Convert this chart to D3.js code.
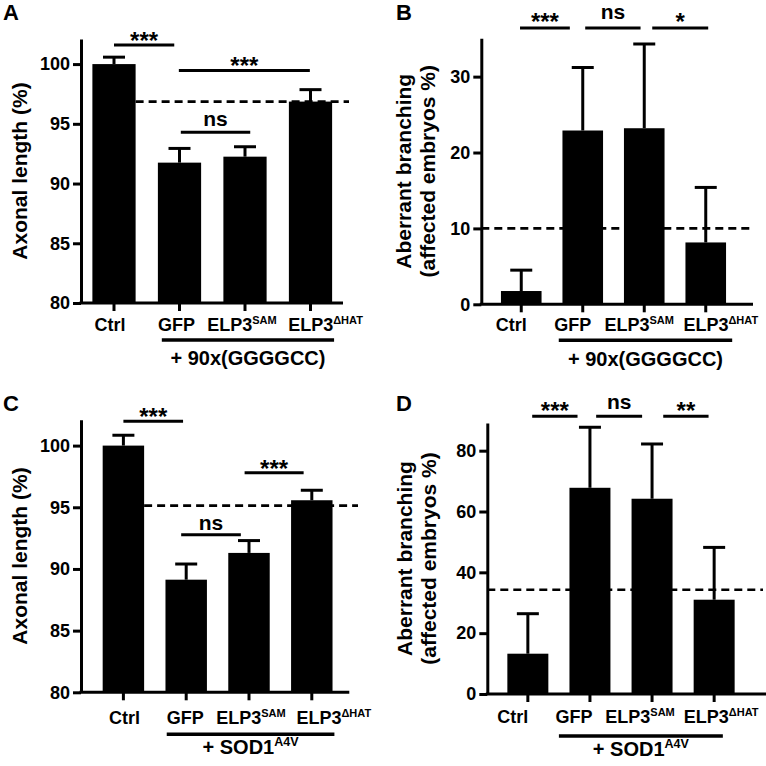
<!DOCTYPE html>
<html><head><meta charset="utf-8">
<script src="https://cdn.jsdelivr.net/npm/d3@7"></script>
<style>
body{margin:0;background:#fff}
text{font-family:"Liberation Sans",Arial,sans-serif;font-weight:bold;fill:#000}
</style>
</head><body><svg id="c" width="766" height="766"></svg>
<script>
// ---------- data ----------
const categories = ["Ctrl", "GFP", "ELP3", "ELP3"];
const categorySup = ["", "", "SAM", "\u0394HAT"];
const groupLabelA = ["+ 90x(GGGGCC)", ""];
const groupLabelC = ["+ SOD1", "A4V"];

const axonLengthA = [100, 91.75, 92.25, 96.86];
const axonLengthErrA = [0.58, 1.19, 0.83, 1.0];
const branchingB = [1.75, 22.9, 23.2, 8.15];
const branchingErrB = [2.75, 8.3, 11.1, 7.25];
const axonLengthC = [100, 89.13, 91.3, 95.57];
const axonLengthErrC = [0.84, 1.27, 1.0, 0.81];
const branchingD = [13.25, 67.8, 64.2, 31.0];
const branchingErrD = [13.15, 19.9, 18.0, 17.2];

const referenceA = 96.86, referenceB = 10, referenceC = 95.13, referenceD = 34.3;

const ticksAxon = [80, 85, 90, 95, 100];
const ticksB = [0, 10, 20, 30];
const ticksD = [0, 20, 40, 60, 80];

// significance brackets: from/to in category-position units (centre of i = i+0.5), y in data units
const sigA = [
  {from: 0.5, to: 1.42, y: 101.6, label: "***"},
  {from: 1.49, to: 3.49, y: 99.47, label: "***"},
  {from: 1.52, to: 2.58, y: 94.3, label: "ns"}
];
const sigB = [
  {from: 0.48, to: 1.29, y: 36.4, label: "***"},
  {from: 1.54, to: 2.44, y: 36.4, label: "ns"},
  {from: 2.63, to: 3.54, y: 36.4, label: "*"}
];
const sigC = [
  {from: 0.5, to: 1.45, y: 101.98, label: "***"},
  {from: 1.42, to: 2.37, y: 92.78, label: "ns"},
  {from: 2.43, to: 3.37, y: 97.79, label: "***"}
];
const sigD = [
  {from: 0.57, to: 1.3, y: 91.3, label: "***"},
  {from: 1.6, to: 2.34, y: 91.3, label: "ns"},
  {from: 2.68, to: 3.41, y: 91.3, label: "**"}
];
const groupSpanA = [1.23, 3.86], groupSpanB = [1.11, 3.93], groupSpanC = [1.19, 3.86], groupSpanD = [1.0, 3.64];

// ---------- layout ----------
const panels = [
  {letter: "A", lx: 3, ly: 20, values: axonLengthA, errs: axonLengthErrA, ref: referenceA, ticks: ticksAxon,
   domain: [80, 102.1], left: 81, right: 343, top: 39, bottom: 303, bandStart: 81.25, step: 65.5,
   dashFrom: "bar", dashTo: 349, sig: sigA, starDy: 4, nsDy: -6, labelDx: [-4, -3, -3, 15], labelDy: 28,
   group: groupLabelA, groupSpan: groupSpanA, groupLineDy: 37, groupTextDy: 62,
   title: ["Axonal length (%)"], titleX: [27]},
  {letter: "B", lx: 396, ly: 20, values: branchingB, errs: branchingErrB, ref: referenceB, ticks: ticksB,
   domain: [0, 35.05], left: 481.3, right: 753, top: 38.3, bottom: 304.3, bandStart: 490.5, step: 61.5,
   dashFrom: "axis", dashTo: 753, sig: sigB, starDy: 2, nsDy: -9, labelDx: [-10, -10, -5, 15], labelDy: 27,
   group: groupLabelA, groupSpan: groupSpanB, groupLineDy: 36, groupTextDy: 62,
   title: ["Aberrant branching", "(affected embryos %)"], titleX: [411, 435]},
  {letter: "C", lx: 3, ly: 411, values: axonLengthC, errs: axonLengthErrC, ref: referenceC, ticks: ticksAxon,
   domain: [80, 102.1], left: 81, right: 349.3, top: 419.7, bottom: 692.3, bandStart: 92, step: 62.8,
   dashFrom: "bar", dashTo: 358, sig: sigC, starDy: 4, nsDy: -5, labelDx: [1, -1, 2, 22], labelDy: 32,
   group: groupLabelC, groupSpan: groupSpanC, groupLineDy: 42, groupTextDy: 62,
   title: ["Axonal length (%)"], titleX: [27]},
  {letter: "D", lx: 396, ly: 411, values: branchingD, errs: branchingErrD, ref: referenceD, ticks: ticksD,
   domain: [0, 89.1], left: 487.3, right: 766, top: 423, bottom: 694, bandStart: 496.8, step: 62.1,
   dashFrom: "axis", dashTo: 763, sig: sigD, starDy: 3, nsDy: -7, labelDx: [-15, -16, -12, 7], labelDy: 29,
   group: groupLabelC, groupSpan: groupSpanD, groupLineDy: 42, groupTextDy: 62,
   title: ["Aberrant branching", "(affected embryos %)"], titleX: [412, 436]}
];

const svg = d3.select("#c");
const keys = categories.map((c, i) => c + categorySup[i]);

panels.forEach(p => {
  const g = svg.append("g");
  const y = d3.scaleLinear().domain(p.domain).range([p.bottom, p.top]);
  const x = d3.scaleBand().domain(keys)
    .range([p.bandStart, p.bandStart + 4 * p.step]).paddingInner(0.34).paddingOuter(0.17);
  const pos = d3.scaleLinear().domain([0, 4]).range([p.bandStart, p.bandStart + 4 * p.step]);
  const cx = k => x(k) + x.bandwidth() / 2;

  // panel letter
  g.append("text").attr("x", p.lx).attr("y", p.ly).attr("font-size", 22).text(p.letter);

  // reference dashed line
  const dx0 = p.dashFrom === "bar" ? x(keys[0]) + x.bandwidth() : p.left;
  g.append("line").attr("x1", dx0).attr("x2", p.dashTo)
    .attr("y1", y(p.ref)).attr("y2", y(p.ref))
    .attr("stroke", "#000").attr("stroke-width", 2.6).attr("stroke-dasharray", "8,5");

  // error bars
  const capW = 22;
  keys.forEach((k, i) => {
    const top = p.values[i] + p.errs[i];
    g.append("line").attr("x1", cx(k)).attr("x2", cx(k))
      .attr("y1", y(p.values[i])).attr("y2", y(top))
      .attr("stroke", "#000").attr("stroke-width", 3);
    g.append("line").attr("x1", cx(k) - capW / 2).attr("x2", cx(k) + capW / 2)
      .attr("y1", y(top)).attr("y2", y(top))
      .attr("stroke", "#000").attr("stroke-width", 3);
  });

  // bars
  g.selectAll("rect.bar").data(keys).join("rect").attr("class", "bar")
    .attr("x", k => x(k)).attr("width", x.bandwidth())
    .attr("y", (k, i) => y(p.values[i]))
    .attr("height", (k, i) => y(p.domain[0]) - y(p.values[i]))
    .attr("fill", "#000");

  // y axis
  const ya = g.append("g").attr("transform", `translate(${p.left},0)`)
    .call(d3.axisLeft(y).tickValues(p.ticks).tickSize(8).tickSizeOuter(0).tickPadding(3));
  ya.select(".domain").attr("stroke-width", 3);
  ya.selectAll(".tick line").attr("stroke-width", 3);
  ya.selectAll(".tick text").attr("font-size", 18).attr("font-family", null).style("font-weight", "bold");

  // x axis
  const xa = g.append("g").attr("transform", `translate(0,${p.bottom})`)
    .call(d3.axisBottom(x).tickSize(8).tickSizeOuter(0).tickFormat(""));
  xa.select(".domain").remove();
  xa.selectAll(".tick line").attr("stroke-width", 3);
  g.append("line").attr("x1", p.left - 1.5).attr("x2", p.right)
    .attr("y1", p.bottom).attr("y2", p.bottom).attr("stroke", "#000").attr("stroke-width", 3);

  // x labels with superscripts
  keys.forEach((k, i) => {
    const t = g.append("text").attr("x", cx(k) + p.labelDx[i]).attr("y", p.bottom + p.labelDy)
      .attr("text-anchor", "middle").attr("font-size", 18);
    t.append("tspan").text(categories[i]);
    if (categorySup[i]) t.append("tspan").attr("font-size", 11).attr("dy", -7).text(categorySup[i]);
  });

  // group line + label
  const gx1 = pos(p.groupSpan[0]), gx2 = pos(p.groupSpan[1]);
  g.append("line").attr("x1", gx1).attr("x2", gx2)
    .attr("y1", p.bottom + p.groupLineDy).attr("y2", p.bottom + p.groupLineDy)
    .attr("stroke", "#000").attr("stroke-width", 3.5);
  const gt = g.append("text").attr("x", (gx1 + gx2) / 2).attr("y", p.bottom + p.groupTextDy)
    .attr("text-anchor", "middle").attr("font-size", 20);
  gt.append("tspan").text(p.group[0]);
  if (p.group[1]) gt.append("tspan").attr("font-size", 12.5).attr("dy", -8).text(p.group[1]);

  // significance brackets
  p.sig.forEach(s => {
    const x1 = pos(s.from), x2 = pos(s.to), yy = y(s.y);
    g.append("line").attr("x1", x1).attr("x2", x2).attr("y1", yy).attr("y2", yy)
      .attr("stroke", "#000").attr("stroke-width", 3);
    const isStar = s.label.startsWith("*");
    g.append("text").attr("x", (x1 + x2) / 2).attr("y", yy + (isStar ? p.starDy : p.nsDy))
      .attr("text-anchor", "middle").attr("font-size", isStar ? 24 : 21).text(s.label);
  });

  // y title
  const yc = (p.top + p.bottom) / 2;
  p.title.forEach((line, j) => {
    g.append("text").attr("transform", `translate(${p.titleX[j]},${yc}) rotate(-90)`)
      .attr("text-anchor", "middle").attr("font-size", 21).text(line);
  });
});
</script>
</body></html>
